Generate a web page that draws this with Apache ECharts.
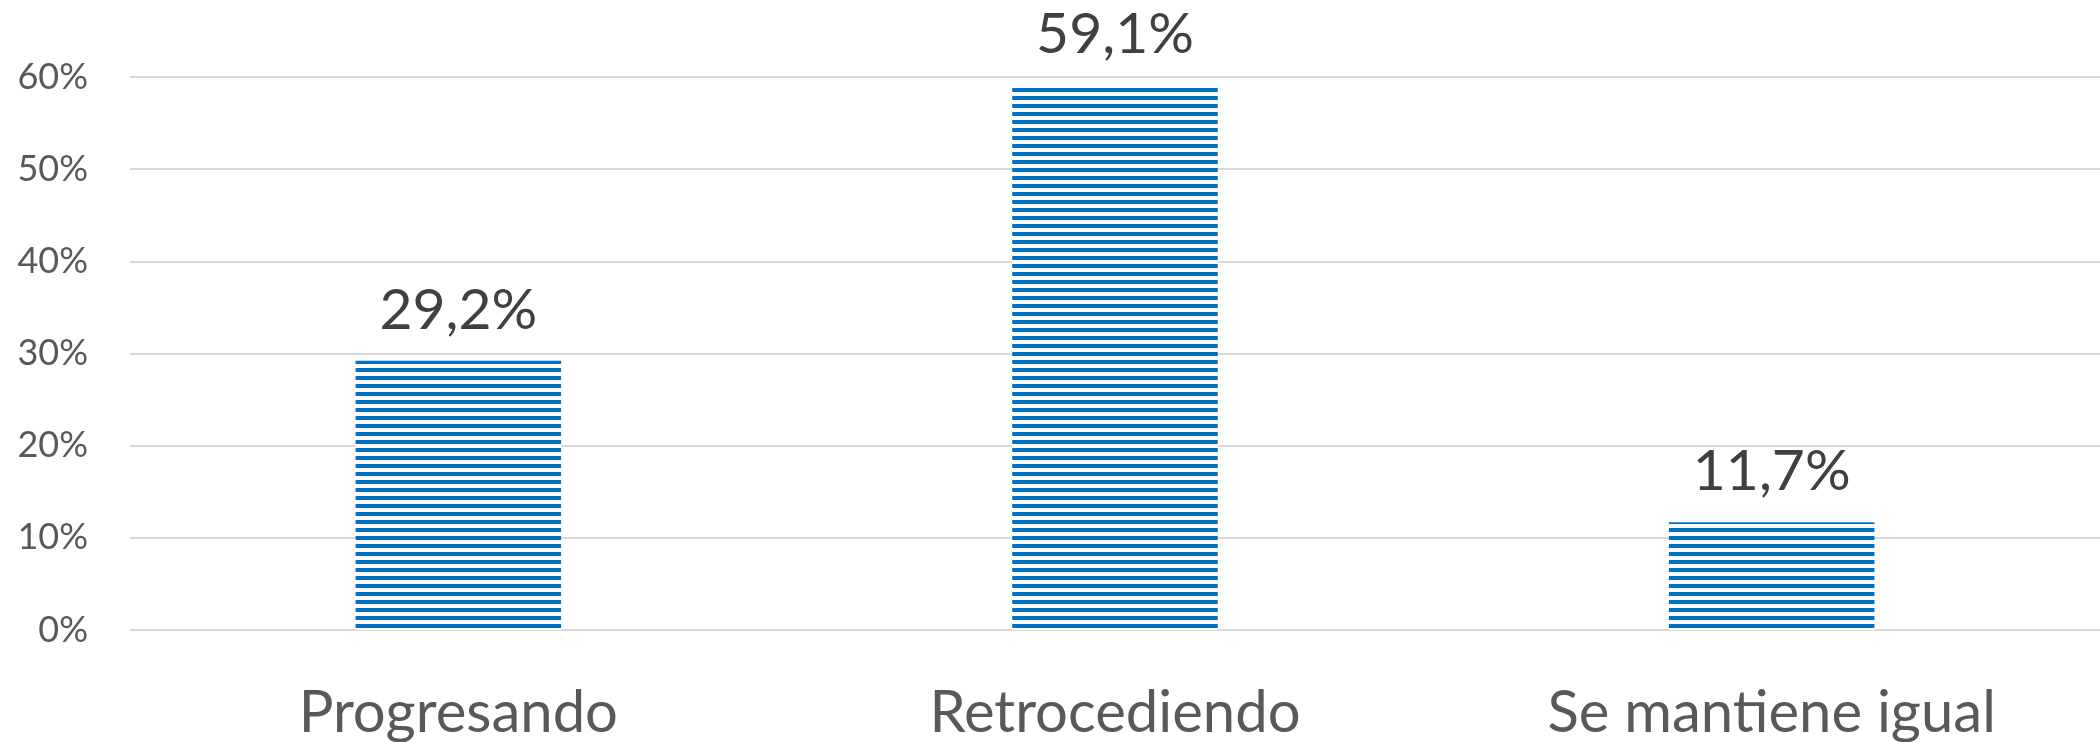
<!DOCTYPE html>
<html>
<head>
<meta charset="utf-8">
<script src="https://cdn.jsdelivr.net/npm/echarts@6/dist/echarts.min.js"></script>
<style>
html,body{margin:0;padding:0;background:#fff;}
#chart{width:2100px;height:742px;}
</style>
</head>
<body>
<div id="chart"></div>
<script>
var categories = ['Progresando', 'Retrocediendo', 'Se mantiene igual'];
var values = [29.2, 59.1, 11.7];
var yTicks = [0, 10, 20, 30, 40, 50, 60];

var pc = document.createElement('canvas');
pc.width = 8; pc.height = 8;
var ctx = pc.getContext('2d');
ctx.fillStyle = '#ffffff';
ctx.fillRect(0, 0, 8, 8);
ctx.fillStyle = '#0070C0';
ctx.fillRect(0, 0, 8, 4);

var chart = echarts.init(document.getElementById('chart'), null, {renderer: 'canvas'});
chart.setOption({
  animation: false,
  backgroundColor: '#ffffff',
  textStyle: {fontFamily: 'Lato'},
  grid: {left: 130, right: -4, top: 77, bottom: 112, containLabel: false},
  xAxis: {
    type: 'category',
    data: categories,
    axisLine: {show: false},
    axisTick: {show: false},
    axisLabel: {color: '#595959', fontSize: 58, fontFamily: 'Lato', margin: 54}
  },
  yAxis: {
    type: 'value',
    min: yTicks[0],
    max: yTicks[yTicks.length - 1],
    interval: 10,
    axisLine: {show: false},
    axisTick: {show: false},
    splitLine: {lineStyle: {color: '#d9d9d9', width: 2}},
    axisLabel: {color: '#595959', fontSize: 36, fontFamily: 'Lato', margin: 42,
      formatter: function (v) { return v + '%'; }}
  },
  series: [{
    type: 'bar',
    data: values,
    barWidth: '31.3%',
    itemStyle: {color: {image: pc, repetition: 'repeat'}},
    label: {
      show: true,
      position: 'top',
      distance: 22,
      color: '#404040',
      fontSize: 57,
      fontFamily: 'Lato',
      formatter: function (p) { return p.value.toFixed(1).replace('.', ',') + '%'; }
    }
  }]
});
</script>
</body>
</html>
